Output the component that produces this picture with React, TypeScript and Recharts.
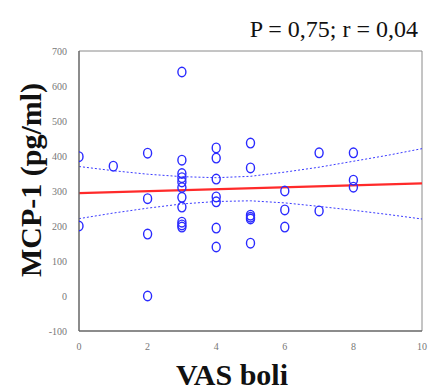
import React from 'react';
import { ComposedChart, Scatter, Line, XAxis, YAxis, ReferenceLine } from 'recharts';

// VAS score per patient and measured MCP-1
const vasScores = [0, 0, 1, 2, 2, 2, 2, 3, 3, 3, 3, 3, 3, 3, 3, 3, 3, 3, 4, 4, 4, 4, 4, 4, 4, 5, 5, 5, 5, 5, 5, 6, 6, 6, 7, 7, 8, 8, 8];
const mcp1Values = [398, 200, 371, 408, 278, 177, 0, 640, 388, 350, 338, 326, 310, 282, 254, 211, 203, 197, 423, 394, 334, 283, 269, 194, 140, 437, 366, 231, 225, 220, 151, 300, 246, 197, 409, 243, 409, 331, 311];

// regression fit and 95% confidence band
const fitX = [0, 10];
const fitY = [294, 322];
const bandX = [0, 1, 2, 3, 4, 5, 6, 7, 8, 9, 10];
const bandUpper = [370, 358, 348, 341, 338, 342, 354, 368, 385, 402, 421];
const bandLower = [221, 237, 251, 263, 270, 272, 266, 256, 245, 233, 220];

const xTicks = [0, 2, 4, 6, 8, 10];
const yTicks = [-100, 0, 100, 200, 300, 400, 500, 600, 700];

const points = vasScores.map((x, i) => ({ x, y: mcp1Values[i] }));
const fit = fitX.map((x, i) => ({ x, fit: fitY[i] }));
const band = bandX.map((x, i) => ({ x, up: bandUpper[i], lo: bandLower[i] }));

const serif = '"Liberation Serif", "DejaVu Serif", serif';
const tickStyle = { fontSize: 10, fill: '#777', fontFamily: serif };

const Ring = (props: any) => (
  <ellipse cx={props.cx} cy={props.cy} rx={4} ry={4.8} fill="none" stroke="#2a2aff" strokeWidth={1.4} />
);

export default function App() {
  return (
    <div style={{ position: 'absolute', left: 0, top: 0, width: 429, height: 391, background: '#fff' }}>
      <ComposedChart width={429} height={391} margin={{ top: 51, right: 7, bottom: 30, left: 0 }}>
        <XAxis
          type="number"
          dataKey="x"
          domain={[0, 10]}
          ticks={xTicks}
          tick={tickStyle}
          tickLine={false}
          tickMargin={6}
          height={30}
          axisLine={{ stroke: '#666', strokeWidth: 1.5 }}
          allowDataOverflow
        />
        <YAxis
          type="number"
          domain={[-100, 700]}
          ticks={yTicks}
          tick={tickStyle}
          tickLine={false}
          tickMargin={6}
          width={79}
          axisLine={{ stroke: '#666', strokeWidth: 1.5 }}
          allowDataOverflow
        />
        {/* frame on top and right */}
        <ReferenceLine y={700} stroke="#8a8a8a" strokeWidth={1} />
        <ReferenceLine x={10} stroke="#8a8a8a" strokeWidth={1} />
        <Line data={band} dataKey="up" stroke="#3a3aff" strokeWidth={1} strokeDasharray="2 2" dot={false} isAnimationActive={false} />
        <Line data={band} dataKey="lo" stroke="#3a3aff" strokeWidth={1} strokeDasharray="2 2" dot={false} isAnimationActive={false} />
        <Line data={fit} dataKey="fit" stroke="#ff2a2a" strokeWidth={2.2} dot={false} isAnimationActive={false} />
        <Scatter data={points} dataKey="y" shape={Ring} isAnimationActive={false} />
        <text x={418} y={37} textAnchor="end" fontFamily={serif} fontSize={24} fill="#111">
          P = 0,75; r = 0,04
        </text>
        <text x={232} y={385} textAnchor="middle" fontFamily={serif} fontSize={30} fontWeight="bold" fill="#111">
          VAS boli
        </text>
        <text
          x={41}
          y={180}
          textAnchor="middle"
          fontFamily={serif}
          fontSize={30}
          fontWeight="bold"
          fill="#111"
          transform="rotate(-90 41 180)"
        >
          MCP-1 (pg/ml)
        </text>
      </ComposedChart>
    </div>
  );
}
